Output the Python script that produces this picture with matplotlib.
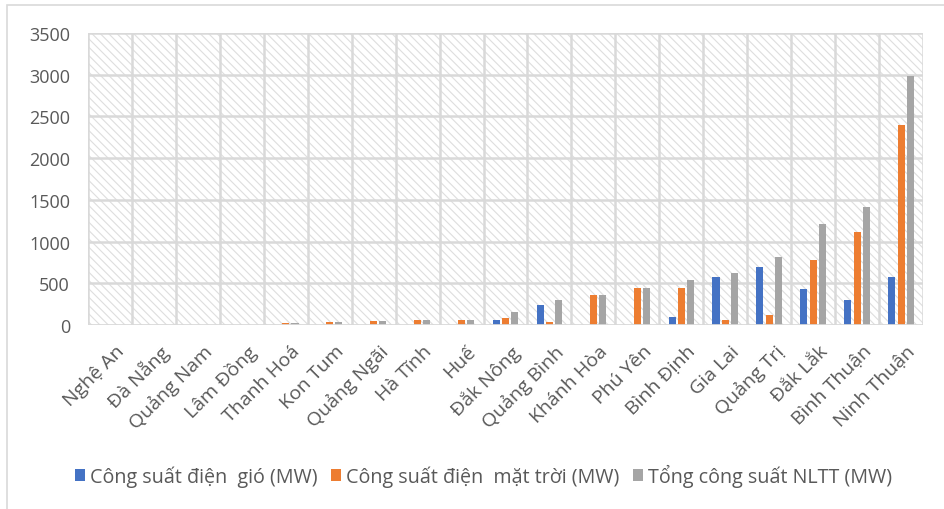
import numpy as np
import matplotlib
matplotlib.use("Agg")
import matplotlib.pyplot as plt
from matplotlib.patches import Rectangle

plt.rcParams['font.family'] = ['Open Sans', 'DejaVu Sans']
plt.rcParams['hatch.linewidth'] = 0.8

provinces = ['Nghệ An', 'Đà Nẵng', 'Quảng Nam', 'Lâm Đồng', 'Thanh Hoá', 'Kon Tum',
             'Quảng Ngãi', 'Hà Tĩnh', 'Huế', 'Đắk Nông', 'Quảng Bình', 'Khánh Hòa',
             'Phú Yên', 'Bình Định', 'Gia Lai', 'Quảng Trị', 'Đắk Lắk', 'Bình Thuận',
             'Ninh Thuận']
wind = [0, 0, 0, 0, 0, 0, 0, 0, 0, 65, 245, 0, 0, 100, 570, 690, 435, 300, 580]
solar = [0, 0, 0, 0, 20, 35, 50, 65, 65, 85, 40, 365, 440, 440, 55, 125, 780, 1115, 2400]
total = [0, 0, 0, 0, 20, 35, 50, 65, 65, 150, 305, 365, 440, 545, 625, 815, 1205, 1420, 2980]

labels = ['Công suất điện  gió (MW)', 'Công suất điện  mặt trời (MW)', 'Tổng công suất NLTT (MW)']
colors = ['#4472C4', '#ED7D31', '#A5A5A5']
grid_c = '#d9d9d9'
text_c = '#595959'

fig = plt.figure(figsize=(9.44, 5.10), dpi=100)
# outer chart border
fig.patches.append(Rectangle((7 / 944, -0.1), 1.2, 1 - 6 / 510 + 0.1, transform=fig.transFigure,
                             facecolor='none', edgecolor=grid_c, lw=1.2))

ax = fig.add_axes([88 / 944, 1 - 326 / 510, 835 / 944, 292 / 510])
ax.patch.set_visible(False)
ax.add_patch(Rectangle((0, 0), 1, 1, transform=ax.transAxes, facecolor='white',
                       edgecolor='#dedede', hatch='\\\\\\\\', lw=0, zorder=0))

x = np.arange(len(provinces))
w = 0.16
step = 0.21
for i, (vals, c, lab) in enumerate(zip([wind, solar, total], colors, labels)):
    ax.bar(x + (i - 1) * step, vals, width=w, color=c, label=lab, zorder=3)

ax.set_xlim(-0.5, len(provinces) - 0.5)
ax.set_ylim(0, 3500)
ax.set_yticks(range(0, 3501, 500))
for y in range(500, 3501, 500):
    ax.axhline(y, color=grid_c, lw=1.8, zorder=1)
for b in np.arange(-0.5, len(provinces), 1):
    ax.axvline(b, color=grid_c, lw=1.8, zorder=1)
ax.axhline(0, color=grid_c, lw=2, zorder=4)
for s in ax.spines.values():
    s.set_visible(False)

ax.tick_params(axis='y', length=0, pad=13, labelsize=13, labelcolor=text_c)
ax.tick_params(axis='x', length=0, pad=12)
ax.set_xticks(x + 0.12)
ax.set_xticklabels(provinces, rotation=45, ha='right', rotation_mode='anchor',
                   fontsize=14, color=text_c)

fig.legend(loc='center', bbox_to_anchor=(0.512, 1 - 476 / 510), ncol=3, frameon=False,
           fontsize=14.2, labelcolor=text_c, handlelength=0.5, handleheight=0.55,
           handletextpad=0.25, columnspacing=0.7)

fig.savefig('out.png', dpi=100)
